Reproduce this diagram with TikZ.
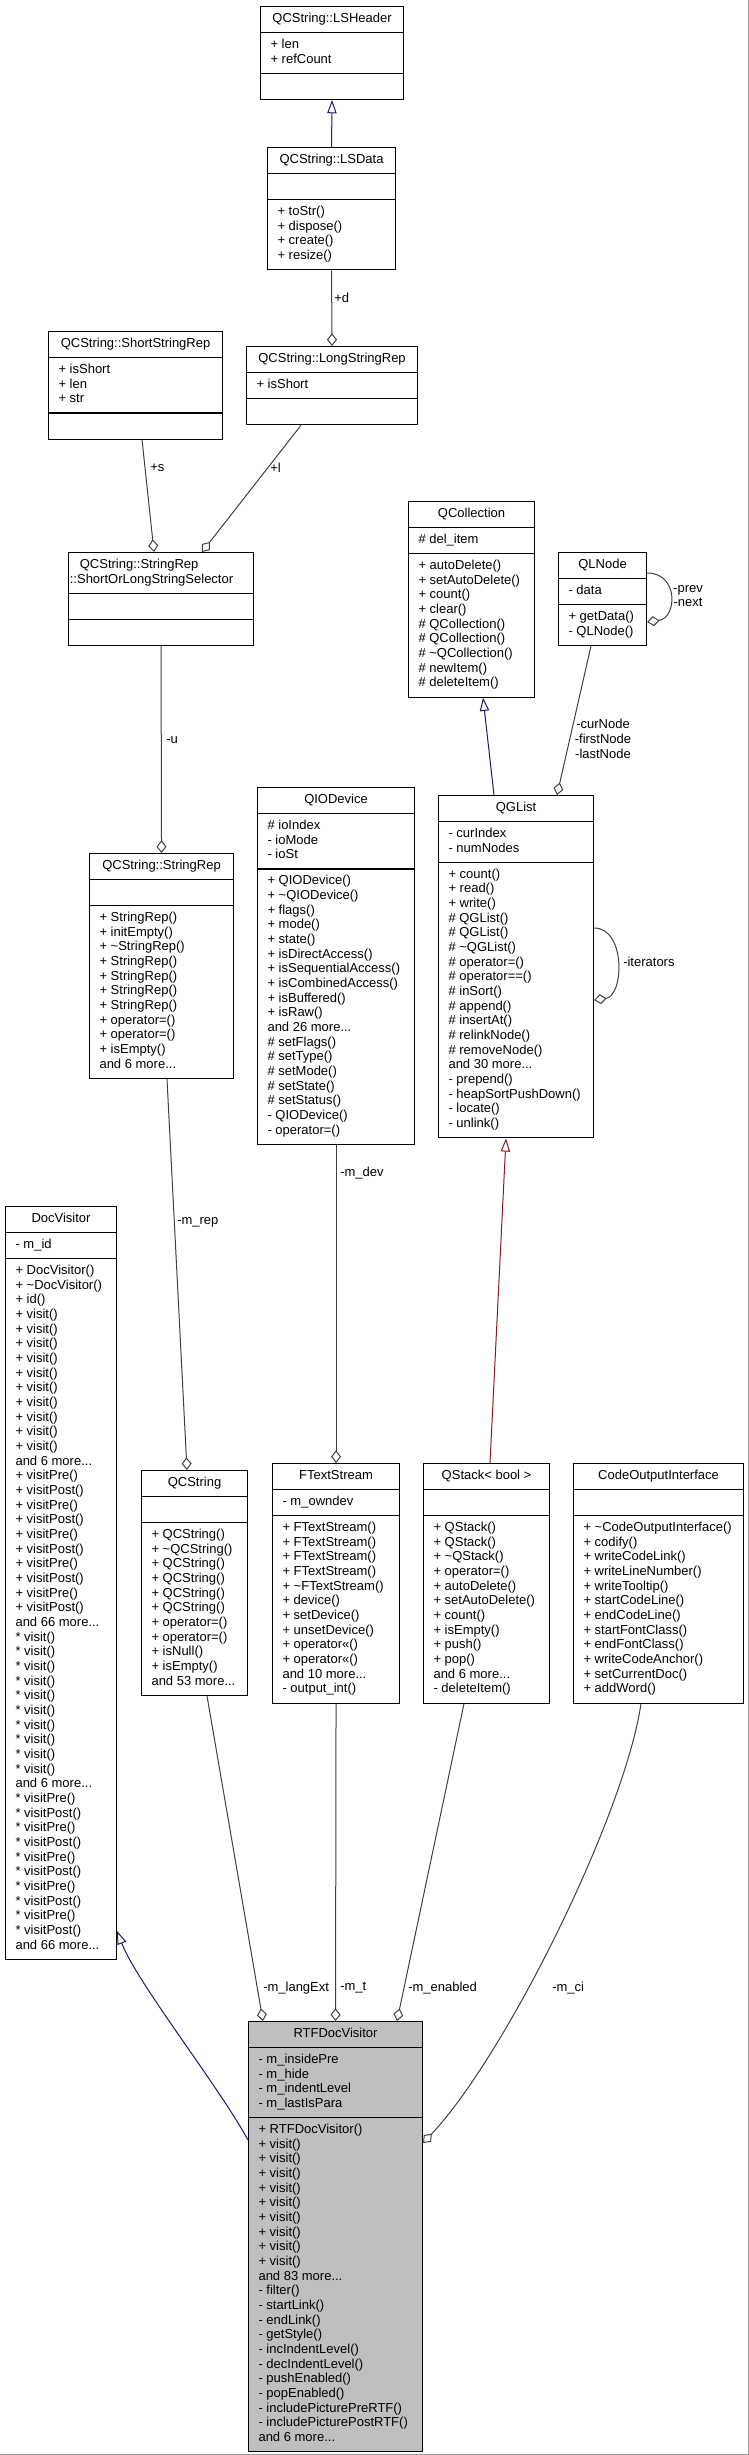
\documentclass[tikz,border=0pt]{standalone}
\usepackage{fontspec}
\setmainfont{Liberation Sans}
\usetikzlibrary{shapes.multipart,arrows.meta,calc}
\definecolor{inhblue}{RGB}{25,25,112}
\definecolor{inhred}{RGB}{139,26,26}
\definecolor{usegray}{RGB}{64,64,64}
\newcommand\mbr[1]{\strut#1\strut}
\begin{document}
\begin{tikzpicture}[x=0.75pt,y=-0.75pt]
      \tikzset{
        every node/.style={font=\fontsize{9.75}{11}\selectfont},
        cls/.style={draw,line width=0.8pt,rectangle split,rectangle split parts=3,
          rectangle split part align={center,left,left},align=left,anchor=north west,
          inner xsep=7.5pt,inner ysep=3.875pt,minimum width=#1*0.75pt},
        cur/.style={fill=black!25},
        lbl/.style={anchor=west,inner sep=0pt},
        use/.style={usegray,line width=0.75pt,-{Diamond[open,length=9.5pt,width=7.5pt]}},
        inh/.style={inhblue,line width=0.75pt,-{Triangle[open,length=10pt,width=7pt]}},
        pinh/.style={inh,inhred}
      }
      \useasboundingbox (0,0) rectangle (749,2455);

      \node[cls=143] (lsheader) at (260,6) {\mbr{QCString::LSHeader}
        \nodepart{two}\mbr{+ len\\+ refCount}
        \nodepart{three}\strut};
      \node[cls=128] (lsdata) at (267,147) {\mbr{QCString::LSData}
        \nodepart{two}\strut
        \nodepart{three}\mbr{+ toStr()\\+ dispose()\\+ create()\\+ resize()}};
      \node[cls=174] (ssrep) at (48,331) {\mbr{QCString::ShortStringRep}
        \nodepart{two}\mbr{+ isShort\\+ len\\+ str}
        \nodepart{three}\strut};
      \node[cls=171] (lsrep) at (246,346) {\mbr{QCString::LongStringRep}
        \nodepart{two}\mbr{+ isShort}
        \nodepart{three}\strut};
      \node[cls=185,inner xsep=1pt,rectangle split part align={left,left,left}] (selector) at (68,552)
        {\mbr{\hspace*{7.5pt}QCString::StringRep\\::ShortOrLongStringSelector}
        \nodepart{two}\strut
        \nodepart{three}\strut};
      \node[cls=126] (qcollection) at (408,501) {\mbr{QCollection}
        \nodepart{two}\mbr{\# del\_item}
        \nodepart{three}\mbr{+ autoDelete()\\+ setAutoDelete()\\+ count()\\+ clear()\\\# QCollection()\\\# QCollection()\\\# \textasciitilde QCollection()\\\# newItem()\\\# deleteItem()}};
      \node[cls=88] (qlnode) at (558,552) {\mbr{QLNode}
        \nodepart{two}\mbr{- data}
        \nodepart{three}\mbr{+ getData()\\- QLNode()}};
      \node[cls=144] (stringrep) at (89,853) {\mbr{QCString::StringRep}
        \nodepart{two}\strut
        \nodepart{three}\mbr{+ StringRep()\\+ initEmpty()\\+ \textasciitilde StringRep()\\+ StringRep()\\+ StringRep()\\+ StringRep()\\+ StringRep()\\+ operator=()\\+ operator=()\\+ isEmpty()\\and 6 more...}};
      \node[cls=157] (qiodevice) at (257,787) {\mbr{QIODevice}
        \nodepart{two}\mbr{\# ioIndex\\- ioMode\\- ioSt}
        \nodepart{three}\mbr{+ QIODevice()\\+ \textasciitilde QIODevice()\\+ flags()\\+ mode()\\+ state()\\+ isDirectAccess()\\+ isSequentialAccess()\\+ isCombinedAccess()\\+ isBuffered()\\+ isRaw()\\and 26 more...\\\# setFlags()\\\# setType()\\\# setMode()\\\# setState()\\\# setStatus()\\- QIODevice()\\- operator=()}};
      \node[cls=155] (qglist) at (438,795) {\mbr{QGList}
        \nodepart{two}\mbr{- curIndex\\- numNodes}
        \nodepart{three}\mbr{+ count()\\+ read()\\+ write()\\\# QGList()\\\# QGList()\\\# \textasciitilde QGList()\\\# operator=()\\\# operator==()\\\# inSort()\\\# append()\\\# insertAt()\\\# relinkNode()\\\# removeNode()\\and 30 more...\\- prepend()\\- heapSortPushDown()\\- locate()\\- unlink()}};
      \node[cls=111] (docvisitor) at (5,1206) {\mbr{DocVisitor}
        \nodepart{two}\mbr{- m\_id}
        \nodepart{three}\mbr{+ DocVisitor()\\+ \textasciitilde DocVisitor()\\+ id()\\+ visit()\\+ visit()\\+ visit()\\+ visit()\\+ visit()\\+ visit()\\+ visit()\\+ visit()\\+ visit()\\+ visit()\\and 6 more...\\+ visitPre()\\+ visitPost()\\+ visitPre()\\+ visitPost()\\+ visitPre()\\+ visitPost()\\+ visitPre()\\+ visitPost()\\+ visitPre()\\+ visitPost()\\and 66 more...\\* visit()\\* visit()\\* visit()\\* visit()\\* visit()\\* visit()\\* visit()\\* visit()\\* visit()\\* visit()\\and 6 more...\\* visitPre()\\* visitPost()\\* visitPre()\\* visitPost()\\* visitPre()\\* visitPost()\\* visitPre()\\* visitPost()\\* visitPre()\\* visitPost()\\and 66 more...}};
      \node[cls=106] (qcstring) at (141,1470) {\mbr{QCString}
        \nodepart{two}\strut
        \nodepart{three}\mbr{+ QCString()\\+ \textasciitilde QCString()\\+ QCString()\\+ QCString()\\+ QCString()\\+ QCString()\\+ operator=()\\+ operator=()\\+ isNull()\\+ isEmpty()\\and 53 more...}};
      \node[cls=127] (ftextstream) at (272,1463) {\mbr{FTextStream}
        \nodepart{two}\mbr{- m\_owndev}
        \nodepart{three}\mbr{+ FTextStream()\\+ FTextStream()\\+ FTextStream()\\+ FTextStream()\\+ \textasciitilde FTextStream()\\+ device()\\+ setDevice()\\+ unsetDevice()\\+ operator<<()\\+ operator<<()\\and 10 more...\\- output\_int()}};
      \node[cls=126] (qstack) at (423,1463) {\mbr{QStack< bool >}
        \nodepart{two}\strut
        \nodepart{three}\mbr{+ QStack()\\+ QStack()\\+ \textasciitilde QStack()\\+ operator=()\\+ autoDelete()\\+ setAutoDelete()\\+ count()\\+ isEmpty()\\+ push()\\+ pop()\\and 6 more...\\- deleteItem()}};
      \node[cls=170] (codeout) at (573,1463) {\mbr{CodeOutputInterface}
        \nodepart{two}\strut
        \nodepart{three}\mbr{+ \textasciitilde CodeOutputInterface()\\+ codify()\\+ writeCodeLink()\\+ writeLineNumber()\\+ writeTooltip()\\+ startCodeLine()\\+ endCodeLine()\\+ startFontClass()\\+ endFontClass()\\+ writeCodeAnchor()\\+ setCurrentDoc()\\+ addWord()}};
      \node[cls=174,cur] (rtf) at (248,2021) {\mbr{RTFDocVisitor}
        \nodepart{two}\mbr{- m\_insidePre\\- m\_hide\\- m\_indentLevel\\- m\_lastIsPara}
        \nodepart{three}\mbr{+ RTFDocVisitor()\\+ visit()\\+ visit()\\+ visit()\\+ visit()\\+ visit()\\+ visit()\\+ visit()\\+ visit()\\+ visit()\\and 83 more...\\- filter()\\- startLink()\\- endLink()\\- getStyle()\\- incIndentLevel()\\- decIndentLevel()\\- pushEnabled()\\- popEnabled()\\- includePicturePreRTF()\\- includePicturePostRTF()\\and 6 more...}};

      \node[lbl] (ld) at (334,298) {+d};
      \node[lbl] (ls) at (150,468) {+s};
      \node[lbl] (ll) at (270,468) {+l};
      \node[lbl] (lu) at (166,740) {-u};
      \node[lbl] (lrep) at (177,1222) {-m\_rep};
      \node[lbl] (ldev) at (340,1173) {-m\_dev};
      \node[lbl] (llang) at (263,1988) {-m\_langExt};
      \node[lbl] (lt) at (340,1988) {-m\_t};
      \node[lbl] (lenab) at (408,1988) {-m\_enabled};
      \node[lbl] (lci) at (552,1988) {-m\_ci};
      \node[align=center,inner sep=0pt] (lnode) at (603,739) {-curNode\\-firstNode\\-lastNode};
      \node[align=center,inner sep=0pt] (lprev) at (688,596) {-prev\\-next};
      \node[lbl] (liter) at (623,962) {-iterators};

      \draw (lsdata.north) edge[inh] (lsheader.south)
            (lsdata.south) edge[use] (lsrep.north)
            ($(ssrep.south west)+(94,0)$) edge[use] ($(selector.north west)+(86,0)$)
            ($(lsrep.south west)+(55,0)$) edge[use] ($(selector.north west)+(134,0)$)
            (selector.south) edge[use] (stringrep.north)
            ($(stringrep.south west)+(78,0)$) edge[use] ($(qcstring.north west)+(46,0)$)
            ($(qglist.north west)+(56,0)$) edge[inh] ($(qcollection.south west)+(75,0)$)
            ($(qlnode.south west)+(33,0)$) edge[use] ($(qglist.north west)+(119,0)$)
            ($(qstack.north west)+(67,0)$) edge[pinh] ($(qglist.south west)+(68,0)$)
            (qiodevice.south) edge[use] (ftextstream.north)
            ($(qcstring.south west)+(66,0)$) edge[use] ($(rtf.north west)+(15,0)$)
            (ftextstream.south) edge[use] (rtf.north)
            ($(qstack.south west)+(41,0)$) edge[use] ($(rtf.north west)+(149,0)$);
      \draw[use] ($(qlnode.north east)+(0,21)$) .. controls +(32,0) and +(30,-4) .. ($(qlnode.north east)+(0,70)$);
      \draw[use] ($(qglist.north east)+(0,133)$) .. controls +(32,0) and +(30,-4) .. ($(qglist.north east)+(0,205)$);
      \draw[use] ($(codeout.south west)+(68,0)$) .. controls +(-16,110) and +(83,-88) .. ($(rtf.north east)+(0,122)$);
      \draw[inh] ($(rtf.north west)+(0,119)$) .. controls +(-30,-55) and +(20,52) .. ($(docvisitor.south east)+(0,-29)$);

      \draw[black!40] (748.5,0) -- (748.5,2454.5) -- (0,2454.5);
    \end{tikzpicture}
\end{document}
